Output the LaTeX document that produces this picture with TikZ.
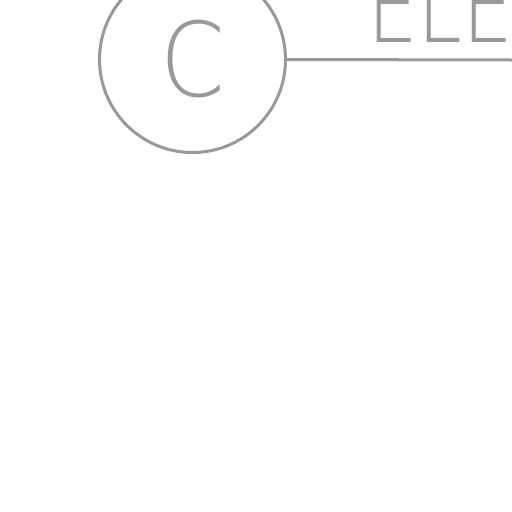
\documentclass[tikz,border=0pt]{standalone}
\usepackage{fontspec}
\newfontfamily\thinfont{DejaVu Sans ExtraLight}
\definecolor{grayc}{HTML}{999999}
\begin{document}
\begin{tikzpicture}[x=1pt,y=-1pt,
  ring/.style={circle, draw=grayc, line width=3pt, minimum size=186pt, inner sep=0pt, text=grayc},
  link/.style={draw=grayc, line width=3pt},
  bigtext/.style={text=grayc, inner sep=0pt, font=\thinfont\fontsize{103}{103}\selectfont}]
\useasboundingbox (0,0) rectangle (512,512);
\node[ring, bigtext, minimum size=186pt] (c) at (192.5,59.5) {\scalebox{0.9}[1]{C}};
\node[bigtext, anchor=base west] (ele) at (367,42) {\scalebox{0.78}[1]{ELE}};
\coordinate (r) at (512,60);
\draw[link] (c.east) -- (r);
\end{tikzpicture}
\end{document}
